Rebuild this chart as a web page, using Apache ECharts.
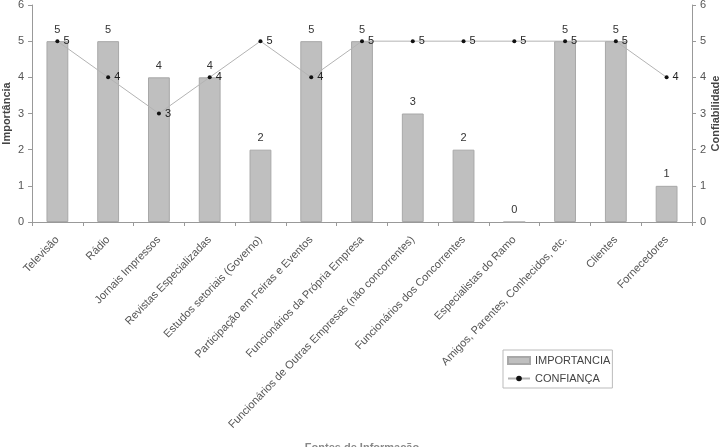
<!DOCTYPE html>
<html>
<head>
<meta charset="utf-8">
<script src="https://cdn.jsdelivr.net/npm/echarts@6/dist/echarts.min.js"></script>
<style>
  html, body { margin: 0; padding: 0; background: #fff; }
  #chart { width: 724px; height: 447px; }
</style>
</head>
<body>
<div id="chart"></div>
<script>
// fontes de informação
const categories = [
  'Televisão', 'Rádio', 'Jornais Impressos', 'Revistas Especializadas',
  'Estudos setoriais (Governo)', 'Participação em Feiras e Eventos',
  'Funcionários da Própria Empresa', 'Funcionários de Outras Empresas (não concorrentes)',
  'Funcionários dos Concorrentes', 'Especialistas do Ramo',
  'Amigos, Parentes, Conhecidos, etc.', 'Clientes', 'Fornecedores'
]
const importancia = [5, 5, 4, 4, 2, 5, 5, 3, 2, 0, 5, 5, 1]
const confianca = [5, 4, 3, 4, 5, 4, 5, 5, 5, 5, 5, 5, 4]
const yTicks = [0, 1, 2, 3, 4, 5, 6]

const myChart = echarts.init(document.getElementById('chart'))

const font = 'Arial, Liberation Sans, sans-serif'
const axisTxt = { color: '#555', fontSize: 11, fontFamily: font }

const yAxisBase = {
  type: 'value',
  min: yTicks[0],
  max: yTicks[yTicks.length - 1],
  interval: 1,
  nameLocation: 'middle',
  nameRotate: 90,
  nameMoveOverlap: false,
  nameTextStyle: { color: '#444', fontSize: 11, fontWeight: 'bold', fontFamily: font },
  axisLine: { show: true, lineStyle: { color: '#999' } },
  axisTick: { show: true, length: 4, lineStyle: { color: '#999' } },
  axisLabel: Object.assign({ margin: 8 }, axisTxt),
  splitLine: { show: false }
}

const option = {
  animation: false,
  grid: { left: 32, right: 32, top: 5, bottom: 225, outerBoundsMode: 'none', containLabel: false },
  legend: {
    orient: 'vertical',
    left: 503,
    top: 350,
    padding: [5, 2, 4, 4],
    itemGap: 7,
    itemWidth: 22,
    itemHeight: 7,
    borderColor: '#bbb',
    borderWidth: 1,
    textStyle: { color: '#444', fontSize: 11, fontFamily: font },
    data: [
      { name: 'IMPORTANCIA', icon: 'rect' },
      { name: 'CONFIANÇA' }
    ]
  },
  xAxis: {
    type: 'category',
    data: categories,
    boundaryGap: true,
    axisLine: { lineStyle: { color: '#999' } },
    axisTick: { show: true, length: 4, lineStyle: { color: '#999' } },
    axisLabel: Object.assign({ rotate: 46, interval: 0, margin: 16 }, axisTxt)
  },
  yAxis: [
    Object.assign({}, yAxisBase, { name: 'Importância', nameGap: 20, position: 'left' }),
    Object.assign({}, yAxisBase, { name: 'Confiabilidade', nameGap: 18, position: 'right' })
  ],
  graphic: [
    {
      type: 'text',
      left: 'center',
      top: 442,
      style: { text: 'Fontes de Informação', fill: '#888', fontSize: 11, fontWeight: 'bold', fontFamily: font }
    }
  ],
  series: [
    {
      name: 'IMPORTANCIA',
      type: 'bar',
      barWidth: '43%',
      data: importancia,
      itemStyle: { color: '#bfbfbf', borderColor: '#a8a8a8', borderWidth: 1 },
      label: { show: true, position: 'top', distance: 6, color: '#333', fontSize: 11, fontFamily: font }
    },
    {
      name: 'CONFIANÇA',
      type: 'line',
      yAxisIndex: 1,
      data: confianca,
      symbol: 'circle',
      symbolSize: 4,
      itemStyle: { color: '#111' },
      lineStyle: { color: '#b3b3b3', width: 1 },
      label: { show: true, position: 'right', distance: 4, color: '#222', fontSize: 11, fontFamily: font },
      z: 3
    }
  ]
}

myChart.setOption(option)
</script>
</body>
</html>
